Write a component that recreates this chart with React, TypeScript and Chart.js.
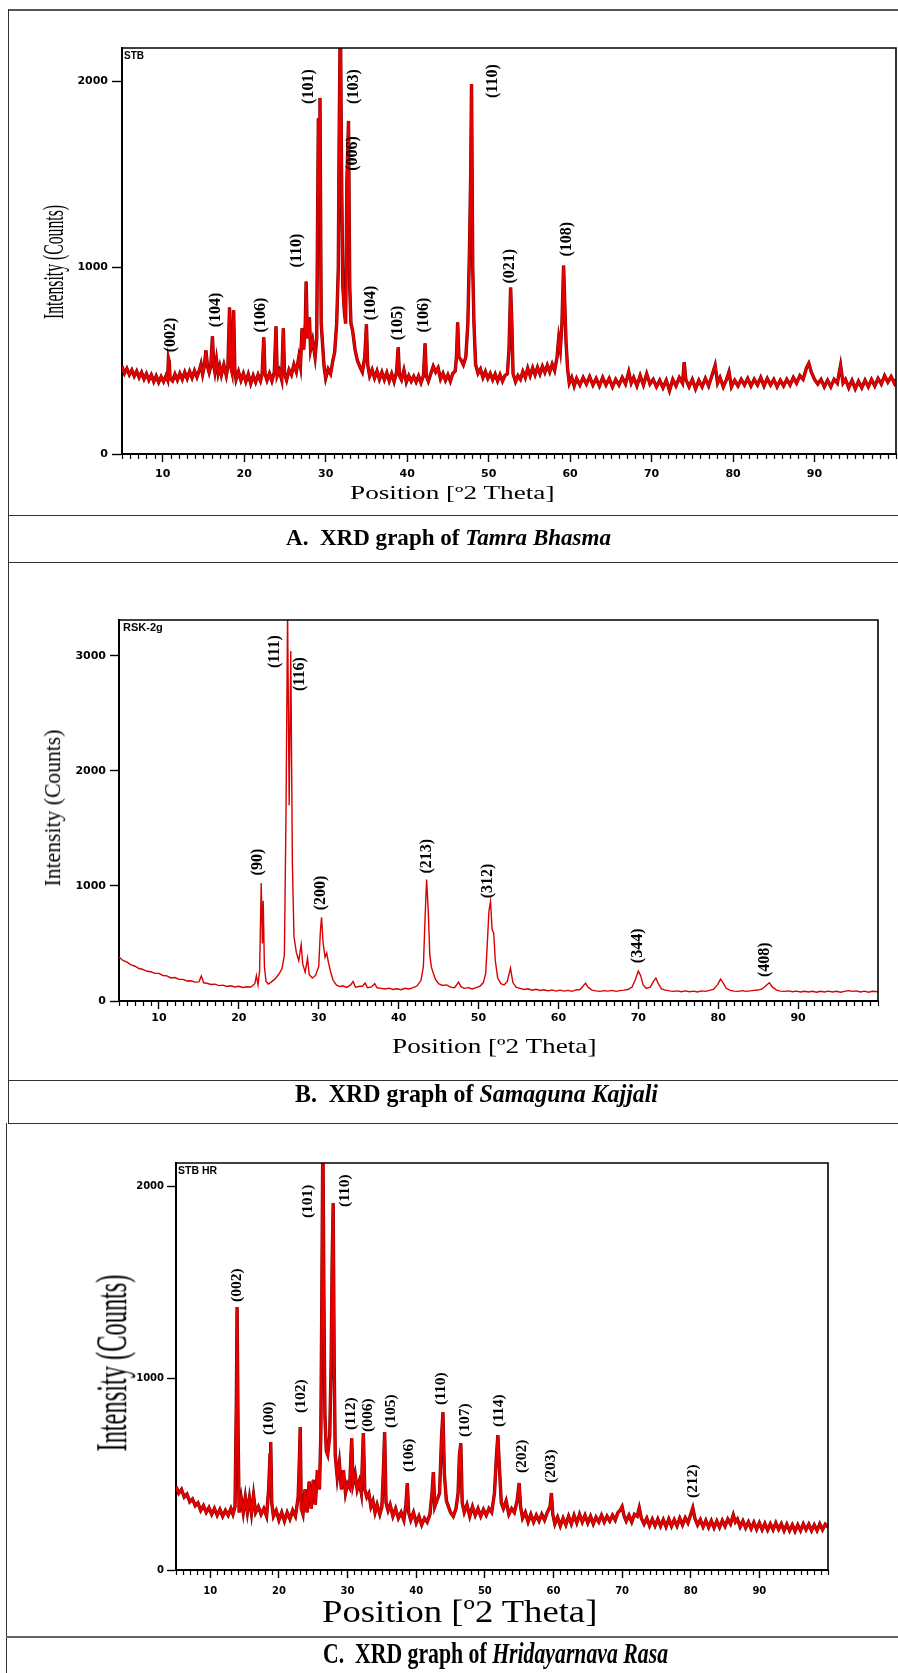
import React, { useEffect, useRef } from "react";
import { Chart, registerables } from "chart.js";

Chart.register(...registerables);

const SERIF = "'Liberation Serif', 'Times New Roman', Times, serif";
const TICK_FAMILY = "'DejaVu Sans', 'Liberation Sans', Arial, sans-serif";
const ID_FAMILY = "'Liberation Sans', Arial, sans-serif";

// ---------------- shared axis values ----------------
const thetaRange = [5, 100];
const thetaTickLabels = [10, 20, 30, 40, 50, 60, 70, 80, 90];
const thetaMinorStep = 1;
const xAxisTitle = "Position [\u00BA2 Theta]";
const yAxisTitle = "Intensity (Counts)";

// ---------------- A. Tamra Bhasma ----------------
const tamraSampleId = "STB";
const tamraCountTicks = [0, 1000, 2000];
const tamraCountMax = 2177;
const tamraPattern: [number, number][] = [
  [5.0, 470], [5.3, 432], [5.6, 458], [5.9, 425], [6.2, 450], [6.5, 418], [6.8, 444], [7.1, 410], [7.4, 438], [7.7, 402],
  [8.0, 430], [8.3, 396], [8.6, 424], [8.9, 388], [9.2, 418], [9.5, 384], [9.8, 414], [10.1, 388], [10.4, 420], [10.6, 398],
  [10.7, 513], [10.8, 496], [10.9, 405], [11.2, 392], [11.5, 428], [11.8, 396], [12.1, 432], [12.4, 400], [12.7, 438], [13.0, 404],
  [13.3, 442], [13.6, 408], [13.9, 446], [14.2, 412], [14.5, 450], [14.7, 482], [14.9, 428], [15.1, 470], [15.3, 556], [15.5, 468],
  [15.7, 436], [15.9, 470], [16.1, 631], [16.25, 480], [16.4, 440], [16.6, 505], [16.8, 432], [17.0, 470], [17.2, 425], [17.5, 478],
  [17.8, 420], [18.0, 470], [18.2, 786], [18.35, 470], [18.5, 440], [18.7, 770], [18.85, 452], [19.0, 400], [19.3, 442], [19.6, 395],
  [19.9, 432], [20.2, 388], [20.5, 428], [20.8, 378], [21.1, 420], [21.4, 385], [21.7, 425], [22.0, 392], [22.2, 430], [22.4, 626],
  [22.55, 430], [22.8, 395], [23.1, 432], [23.4, 392], [23.7, 440], [23.9, 685], [24.05, 420], [24.3, 448], [24.6, 398], [24.8, 674],
  [24.95, 430], [25.2, 396], [25.5, 452], [25.8, 425], [26.1, 480], [26.4, 440], [26.7, 520], [26.9, 470], [27.1, 674], [27.3, 560],
  [27.5, 700], [27.6, 925], [27.75, 620], [27.9, 700], [28.0, 733], [28.15, 560], [28.4, 610], [28.7, 520], [28.9, 620], [29.1, 1800],
  [29.2, 1400], [29.3, 1909], [29.45, 700], [29.6, 600], [29.8, 470], [30.0, 406], [30.3, 455], [30.6, 430], [30.9, 505], [31.1, 545],
  [31.35, 700], [31.55, 1000], [31.65, 1680], [31.8, 2400], [31.95, 1500], [32.1, 900], [32.3, 760], [32.45, 700], [32.6, 1455], [32.8, 1786],
  [32.95, 900], [33.1, 700], [33.3, 663], [33.6, 560], [33.9, 500], [34.2, 468], [34.5, 440], [34.8, 520], [35.0, 695], [35.15, 480],
  [35.4, 418], [35.7, 452], [36.0, 408], [36.3, 445], [36.6, 400], [36.9, 438], [37.2, 398], [37.5, 436], [37.8, 392], [38.1, 430],
  [38.4, 388], [38.7, 440], [38.9, 572], [39.05, 420], [39.3, 398], [39.6, 450], [39.9, 385], [40.2, 420], [40.5, 390], [40.8, 416],
  [41.1, 386], [41.4, 418], [41.7, 382], [42.0, 420], [42.2, 594], [42.35, 420], [42.6, 390], [42.9, 430], [43.2, 470], [43.5, 440],
  [43.8, 462], [44.1, 402], [44.4, 432], [44.7, 395], [45.0, 425], [45.3, 390], [45.6, 432], [45.9, 445], [46.05, 520], [46.2, 706],
  [46.35, 520], [46.6, 505], [46.9, 478], [47.2, 520], [47.45, 700], [47.65, 1100], [47.8, 1500], [47.9, 1984], [48.05, 1000], [48.2, 700],
  [48.4, 480], [48.7, 432], [49.0, 455], [49.3, 410], [49.6, 442], [49.9, 405], [50.2, 432], [50.5, 398], [50.8, 428], [51.1, 392],
  [51.4, 425], [51.7, 390], [52.0, 420], [52.3, 430], [52.5, 560], [52.7, 893], [52.85, 700], [53.0, 430], [53.3, 388], [53.6, 420],
  [53.9, 400], [54.2, 442], [54.5, 410], [54.8, 460], [55.1, 420], [55.4, 462], [55.7, 425], [56.0, 465], [56.3, 430], [56.6, 470],
  [56.9, 438], [57.2, 476], [57.5, 440], [57.8, 482], [58.1, 448], [58.4, 520], [58.6, 620], [58.8, 560], [59.0, 700], [59.2, 1011],
  [59.35, 800], [59.5, 600], [59.7, 452], [59.9, 380], [60.2, 410], [60.5, 365], [60.8, 405], [61.2, 370], [61.6, 410], [62.0, 375],
  [62.4, 415], [62.8, 370], [63.2, 405], [63.6, 365], [64.0, 410], [64.4, 370], [64.8, 405], [65.2, 360], [65.6, 400], [66.0, 370],
  [66.4, 410], [66.8, 375], [67.2, 440], [67.5, 380], [67.8, 410], [68.2, 365], [68.6, 420], [69.0, 370], [69.4, 430], [69.8, 375],
  [70.2, 400], [70.6, 360], [71.0, 395], [71.4, 355], [71.8, 395], [72.2, 340], [72.6, 400], [73.0, 365], [73.4, 410], [73.8, 380],
  [74.0, 492], [74.2, 400], [74.6, 360], [75.0, 400], [75.4, 350], [75.8, 395], [76.2, 360], [76.6, 405], [77.0, 365], [77.4, 420],
  [77.8, 476], [78.1, 380], [78.4, 410], [78.8, 360], [79.2, 400], [79.5, 440], [79.8, 360], [80.2, 395], [80.6, 365], [81.0, 400],
  [81.4, 370], [81.8, 405], [82.2, 365], [82.6, 400], [83.0, 370], [83.4, 410], [83.8, 365], [84.2, 405], [84.6, 370], [85.0, 400],
  [85.4, 360], [85.8, 395], [86.2, 365], [86.6, 400], [87.0, 370], [87.4, 410], [87.8, 380], [88.2, 420], [88.6, 400], [89.0, 460],
  [89.3, 486], [89.6, 440], [90.0, 400], [90.4, 375], [90.8, 400], [91.2, 360], [91.6, 395], [92.0, 360], [92.4, 400], [92.8, 380],
  [93.2, 476], [93.5, 380], [93.8, 400], [94.2, 355], [94.6, 395], [95.0, 350], [95.4, 390], [95.8, 355], [96.2, 395], [96.6, 360],
  [97.0, 400], [97.4, 365], [97.8, 405], [98.2, 375], [98.6, 420], [99.0, 385], [99.4, 415], [99.8, 380], [100.0, 400],
];
const tamraPeakLabels = ["(002)", "(104)", "(106)", "(110)", "(101)", "(103)", "(006)", "(104)", "(105)", "(106)", "(110)", "(021)", "(108)"];
const tamraLabelTheta = [11.0, 16.5, 22.0, 26.5, 27.9, 33.4, 33.3, 35.5, 38.9, 42.1, 50.5, 52.6, 59.6];
const tamraLabelCounts = [545, 679, 652, 1000, 1877, 1877, 1519, 717, 610, 652, 1909, 914, 1059];

// ---------------- B. Samaguna Kajjali ----------------
const kajjaliSampleId = "RSK-2g";
const kajjaliCountTicks = [0, 1000, 2000, 3000];
const kajjaliCountMax = 3310;
const kajjaliPattern: [number, number][] = [
  [5.0, 381], [5.5, 352], [6.0, 338], [6.5, 314], [7.0, 302], [7.5, 282], [8.0, 274], [8.5, 258], [9.0, 254], [9.5, 240],
  [10.0, 240], [10.5, 222], [11.0, 218], [11.5, 200], [12.0, 204], [12.5, 188], [13.0, 188], [13.5, 174], [14.0, 176], [14.5, 164],
  [15.0, 166], [15.3, 218], [15.6, 158], [16.0, 154], [16.5, 144], [17.0, 146], [17.5, 134], [18.0, 138], [18.5, 126], [19.0, 132],
  [19.5, 122], [20.0, 128], [20.5, 118], [21.0, 124], [21.5, 122], [22.0, 150], [22.2, 220], [22.4, 140], [22.6, 260], [22.8, 1024],
  [22.95, 500], [23.05, 870], [23.2, 300], [23.4, 170], [23.7, 148], [24.0, 162], [24.5, 190], [25.0, 232], [25.4, 280], [25.7, 400],
  [25.9, 1600], [26.1, 3380], [26.3, 1700], [26.5, 3040], [26.7, 1200], [26.9, 560], [27.2, 420], [27.5, 350], [27.8, 490], [28.0, 320],
  [28.3, 250], [28.6, 372], [28.8, 230], [29.2, 200], [29.6, 222], [30.0, 300], [30.2, 600], [30.35, 727], [30.55, 500], [30.8, 380],
  [31.0, 416], [31.2, 340], [31.5, 250], [31.8, 180], [32.2, 140], [32.6, 125], [33.0, 132], [33.5, 118], [34.0, 140], [34.3, 170],
  [34.6, 120], [35.0, 126], [35.5, 130], [35.8, 156], [36.1, 115], [36.6, 122], [37.0, 150], [37.3, 115], [37.8, 110], [38.3, 104],
  [38.8, 112], [39.3, 100], [39.8, 106], [40.3, 98], [40.8, 110], [41.3, 104], [41.8, 116], [42.3, 130], [42.8, 180], [43.1, 300],
  [43.3, 700], [43.5, 1056], [43.7, 800], [43.9, 400], [44.1, 294], [44.3, 250], [44.6, 190], [45.0, 150], [45.5, 135], [46.0, 140],
  [46.5, 120], [47.0, 116], [47.5, 164], [47.8, 125], [48.2, 110], [48.7, 116], [49.2, 104], [49.7, 116], [50.2, 130], [50.6, 160],
  [50.9, 240], [51.1, 500], [51.3, 780], [51.5, 866], [51.7, 620], [51.9, 590], [52.1, 350], [52.4, 200], [52.8, 150], [53.2, 140],
  [53.6, 170], [54.0, 286], [54.3, 160], [54.7, 120], [55.2, 110], [55.7, 100], [56.2, 106], [56.7, 94], [57.2, 102], [57.7, 92],
  [58.2, 98], [58.7, 88], [59.2, 96], [59.7, 86], [60.2, 94], [60.7, 86], [61.2, 92], [61.7, 84], [62.2, 96], [62.7, 100],
  [63.1, 130], [63.4, 155], [63.7, 120], [64.2, 95], [64.7, 88], [65.2, 84], [65.7, 90], [66.2, 86], [66.7, 92], [67.2, 84],
  [67.7, 90], [68.2, 94], [68.7, 100], [69.2, 120], [69.6, 180], [70.0, 260], [70.3, 220], [70.6, 140], [71.0, 110], [71.5, 120],
  [71.9, 170], [72.2, 199], [72.5, 150], [72.9, 105], [73.4, 95], [73.9, 88], [74.4, 84], [74.9, 88], [75.4, 80], [75.9, 88],
  [76.4, 80], [76.9, 86], [77.4, 78], [77.9, 88], [78.4, 84], [78.9, 92], [79.4, 100], [79.9, 140], [80.3, 190], [80.6, 160],
  [81.0, 110], [81.5, 92], [82.0, 86], [82.5, 84], [83.0, 90], [83.5, 84], [84.0, 88], [84.5, 92], [85.0, 95], [85.5, 105],
  [86.0, 135], [86.4, 158], [86.8, 120], [87.3, 95], [87.8, 86], [88.3, 84], [88.8, 88], [89.3, 80], [89.8, 86], [90.3, 78],
  [90.8, 84], [91.3, 78], [91.8, 85], [92.3, 76], [92.8, 84], [93.3, 78], [93.8, 86], [94.3, 78], [94.8, 85], [95.3, 76],
  [95.8, 84], [96.3, 90], [96.8, 84], [97.3, 88], [97.8, 78], [98.3, 86], [98.8, 76], [99.3, 84], [100.0, 80],
];
const kajjaliPeakLabels = ["(90)", "(111)", "(116)", "(200)", "(213)", "(312)", "(344)", "(408)"];
const kajjaliLabelTheta = [22.4, 24.5, 27.6, 30.3, 43.5, 51.2, 69.9, 85.8];
const kajjaliLabelCounts = [1091, 2892, 2693, 788, 1108, 892, 329, 208];

// ---------------- C. Hridayarnava Rasa ----------------
const hridayaSampleId = "STB HR";
const hridayaCountTicks = [0, 1000, 2000];
const hridayaCountMax = 2120;
const hridayaPattern: [number, number][] = [
  [5.0, 434], [5.4, 400], [5.8, 420], [6.2, 380], [6.6, 395], [7.0, 355], [7.4, 370], [7.8, 335], [8.2, 350], [8.6, 310],
  [9.0, 335], [9.4, 300], [9.8, 325], [10.2, 290], [10.6, 320], [11.0, 285], [11.4, 315], [11.8, 280], [12.2, 310], [12.6, 285],
  [13.0, 320], [13.3, 290], [13.6, 330], [13.8, 900], [13.9, 1370], [14.05, 700], [14.2, 300], [14.5, 375], [14.8, 300], [15.1, 380],
  [15.4, 300], [15.7, 375], [16.0, 295], [16.3, 390], [16.6, 300], [17.0, 330], [17.4, 290], [17.8, 320], [18.2, 280], [18.5, 420],
  [18.7, 600], [18.8, 667], [18.95, 350], [19.2, 280], [19.6, 310], [20.0, 260], [20.4, 300], [20.8, 255], [21.2, 300], [21.6, 265],
  [22.0, 310], [22.4, 280], [22.8, 380], [23.0, 600], [23.1, 745], [23.25, 320], [23.5, 290], [23.8, 420], [24.1, 300], [24.4, 460],
  [24.7, 320], [25.0, 470], [25.3, 340], [25.6, 520], [25.9, 420], [26.1, 700], [26.25, 1406], [26.4, 2300], [26.55, 1406], [26.7, 800],
  [26.9, 620], [27.1, 600], [27.4, 700], [27.6, 1068], [27.75, 1600], [27.9, 1911], [28.05, 1068], [28.2, 600], [28.5, 480], [28.8, 560],
  [29.1, 420], [29.4, 520], [29.7, 400], [30.0, 450], [30.3, 430], [30.6, 686], [30.8, 450], [31.1, 500], [31.4, 420], [31.7, 460],
  [32.0, 400], [32.3, 713], [32.5, 420], [32.8, 380], [33.1, 400], [33.4, 330], [33.7, 360], [34.0, 300], [34.3, 340], [34.7, 290],
  [35.0, 330], [35.2, 500], [35.4, 719], [35.6, 350], [35.9, 310], [36.2, 340], [36.6, 280], [37.0, 320], [37.4, 270], [37.8, 300],
  [38.2, 260], [38.5, 340], [38.7, 453], [38.9, 300], [39.2, 260], [39.6, 300], [40.0, 245], [40.4, 280], [40.8, 235], [41.2, 270],
  [41.6, 250], [42.0, 290], [42.3, 400], [42.5, 510], [42.7, 330], [43.0, 360], [43.4, 400], [43.7, 700], [43.9, 822], [44.1, 500],
  [44.4, 360], [44.7, 330], [45.0, 300], [45.4, 280], [45.8, 320], [46.1, 400], [46.3, 600], [46.5, 660], [46.7, 350], [47.0, 300],
  [47.4, 340], [47.8, 280], [48.2, 330], [48.6, 285], [49.0, 320], [49.4, 280], [49.8, 315], [50.2, 285], [50.6, 320], [51.0, 300],
  [51.4, 400], [51.7, 600], [51.9, 703], [52.1, 550], [52.4, 350], [52.7, 320], [53.1, 360], [53.5, 290], [53.9, 320], [54.3, 300],
  [54.7, 360], [55.0, 453], [55.2, 330], [55.5, 270], [55.9, 300], [56.3, 250], [56.7, 290], [57.1, 250], [57.5, 285], [57.9, 255],
  [58.3, 290], [58.7, 260], [59.1, 300], [59.5, 330], [59.7, 401], [59.9, 290], [60.2, 240], [60.6, 275], [61.0, 230], [61.4, 270],
  [61.8, 235], [62.2, 280], [62.6, 240], [63.0, 285], [63.4, 245], [63.8, 290], [64.2, 250], [64.6, 285], [65.0, 245], [65.4, 280],
  [65.8, 240], [66.2, 275], [66.6, 250], [67.0, 285], [67.4, 250], [67.8, 280], [68.2, 255], [68.6, 285], [69.0, 260], [69.4, 300],
  [69.7, 310], [70.0, 330], [70.3, 280], [70.6, 255], [71.0, 285], [71.4, 250], [71.8, 290], [72.2, 280], [72.5, 323], [72.8, 270],
  [73.2, 240], [73.6, 270], [74.0, 230], [74.4, 265], [74.8, 230], [75.2, 265], [75.6, 228], [76.0, 262], [76.4, 226], [76.8, 265],
  [77.2, 228], [77.6, 262], [78.0, 230], [78.4, 270], [78.8, 235], [79.2, 272], [79.6, 245], [80.0, 290], [80.3, 323], [80.6, 270],
  [81.0, 235], [81.4, 262], [81.8, 225], [82.2, 258], [82.6, 222], [83.0, 256], [83.4, 220], [83.8, 255], [84.2, 222], [84.6, 258],
  [85.0, 228], [85.4, 265], [85.8, 240], [86.2, 287], [86.5, 250], [86.8, 265], [87.2, 225], [87.6, 255], [88.0, 220], [88.4, 250],
  [88.8, 215], [89.2, 248], [89.6, 212], [90.0, 245], [90.4, 210], [90.8, 242], [91.2, 208], [91.6, 240], [92.0, 210], [92.4, 245],
  [92.8, 212], [93.2, 240], [93.6, 205], [94.0, 238], [94.4, 205], [94.8, 235], [95.2, 202], [95.6, 235], [96.0, 205], [96.4, 240],
  [96.8, 210], [97.2, 238], [97.6, 205], [98.0, 235], [98.4, 205], [98.8, 240], [99.2, 210], [99.6, 238], [100.0, 224],
];
const hridayaPeakLabels = ["(002)", "(100)", "(102)", "(101)", "(110)", "(112)", "(006)", "(105)", "(106)", "(110)", "(107)", "(114)", "(202)", "(203)", "(212)"];
const hridayaLabelTheta = [13.9, 18.6, 23.2, 24.2, 29.6, 30.5, 33.0, 36.3, 38.9, 43.6, 47.1, 52.0, 55.4, 59.7, 80.4];
const hridayaLabelCounts = [1396, 703, 818, 1833, 1891, 729, 719, 740, 510, 859, 693, 745, 505, 453, 375];

// captions
type Seg = { text: string; italic?: boolean };
const captionA: Seg[] = [{ text: "A.  XRD graph of " }, { text: "Tamra Bhasma", italic: true }];
const captionB: Seg[] = [{ text: "B.  XRD graph of " }, { text: "Samaguna Kajjali", italic: true }];
const captionC: Seg[] = [{ text: "C.  XRD graph of " }, { text: "Hridayarnava Rasa", italic: true }];

// ---------------- helpers ----------------
let measureCtx: CanvasRenderingContext2D | null = null;
function measureSegs(segs: Seg[], size: number, bold: boolean): number {
  if (!measureCtx) measureCtx = document.createElement("canvas").getContext("2d");
  const ctx = measureCtx!;
  let w = 0;
  for (const s of segs) {
    ctx.font = `${s.italic ? "italic " : ""}${bold ? "bold " : ""}${size}px ${SERIF}`;
    w += ctx.measureText(s.text).width;
  }
  return w;
}

function Caption(props: { segs: Seg[]; size: number; left: number; baseline: number; width: number }) {
  const { segs, size, left, baseline, width } = props;
  const s = width / measureSegs(segs, size, true);
  return (
    <div
      style={{
        position: "absolute", left, top: baseline - 0.8375 * size, fontFamily: SERIF, fontWeight: "bold",
        fontSize: size, lineHeight: `${size}px`, whiteSpace: "pre", transformOrigin: "0 0",
        transform: `scaleX(${s})`, color: "#000",
      }}
    >
      {segs.map((g, i) => (g.italic ? <i key={i}>{g.text}</i> : <span key={i}>{g.text}</span>))}
    </div>
  );
}

function XTitle(props: { text: string; size: number; cx: number; baseline: number; width: number }) {
  const { text, size, cx, baseline, width } = props;
  const s = width / measureSegs([{ text }], size, false);
  return (
    <div
      style={{
        position: "absolute", left: cx - width / 2, top: baseline - 0.8375 * size, fontFamily: SERIF,
        fontSize: size, lineHeight: `${size}px`, whiteSpace: "pre", transformOrigin: "0 0",
        transform: `scaleX(${s})`, color: "#000",
      }}
    >
      {text}
    </div>
  );
}

function YTitle(props: { text: string; size: number; cx: number; cy: number; length: number; glyph: number }) {
  const { text, size, cx, cy, length, glyph } = props;
  const natural = measureSegs([{ text }], size, false);
  const s = length / natural;
  return (
    <div
      style={{
        position: "absolute", left: cx - natural / 2, top: cy - size / 2, width: natural, height: size,
        fontFamily: SERIF, fontSize: size, lineHeight: `${size}px`, whiteSpace: "pre",
        transformOrigin: "50% 50%", transform: `rotate(-90deg) scale(${s}, ${glyph})`, color: "#000",
      }}
    >
      {text}
    </div>
  );
}

type PanelProps = {
  box: { left: number; top: number; width: number; height: number };
  pad: { left: number; top: number; right: number; bottom: number };
  pattern: [number, number][];
  countTicks: number[];
  countMax: number;
  sampleId: string;
  peakLabels: string[];
  peakTheta: number[];
  peakCounts: number[];
  look: {
    line: string; lineWidth: number; underlay?: string; underlayWidth?: number;
    tickSize: number; xTickPad: number; yTickLen: number; yTickPad: number;
    labelSize: number; idSize: number; idDx: number; idDy: number;
  };
};

function XrdPanel(p: PanelProps) {
  const ref = useRef<HTMLCanvasElement | null>(null);
  useEffect(() => {
    const canvas = ref.current;
    if (!canvas) return;
    const points = p.pattern.map(([x, y]) => ({ x, y }));
    const datasets: any[] = [
      { data: points, borderColor: p.look.line, borderWidth: p.look.lineWidth, pointRadius: 0, tension: 0, fill: false, borderJoinStyle: "miter" },
    ];
    if (p.look.underlay) {
      datasets.push({ data: points, borderColor: p.look.underlay, borderWidth: p.look.underlayWidth, pointRadius: 0, tension: 0, fill: false, borderJoinStyle: "miter" });
    }
    const decor = {
      id: "xrdDecor",
      afterDatasetsDraw(chart: any) {
        const { ctx, chartArea } = chart;
        const { left, top, right, bottom } = chartArea;
        const xs = chart.scales.x;
        const ys = chart.scales.y;
        ctx.save();
        ctx.strokeStyle = "#000";
        ctx.lineWidth = 1.6;
        ctx.beginPath();
        ctx.moveTo(left - 1, top);
        ctx.lineTo(right, top);
        ctx.lineTo(right, bottom + 1);
        ctx.stroke();
        ctx.lineWidth = 1.2;
        for (let v = Math.ceil(xs.min); v <= xs.max; v += thetaMinorStep) {
          if (thetaTickLabels.includes(v)) continue;
          const px = Math.round(xs.getPixelForValue(v)) + 0.5;
          ctx.beginPath();
          ctx.moveTo(px, bottom);
          ctx.lineTo(px, bottom + 5);
          ctx.stroke();
        }
        ctx.fillStyle = "#000";
        ctx.font = `bold ${p.look.idSize}px ${ID_FAMILY}`;
        ctx.textAlign = "left";
        ctx.textBaseline = "top";
        ctx.fillText(p.sampleId, left + p.look.idDx, top + p.look.idDy);
        ctx.font = `bold ${p.look.labelSize}px ${SERIF}`;
        ctx.textBaseline = "middle";
        p.peakLabels.forEach((label, i) => {
          ctx.save();
          ctx.translate(xs.getPixelForValue(p.peakTheta[i]), ys.getPixelForValue(p.peakCounts[i]));
          ctx.rotate(-Math.PI / 2);
          ctx.fillText(label, 0, 0);
          ctx.restore();
        });
        ctx.restore();
      },
    };
    const tickFont = { family: TICK_FAMILY, size: p.look.tickSize, weight: "bold" as const };
    const chart = new Chart(canvas, {
      type: "line",
      data: { datasets },
      options: {
        animation: false,
        responsive: false,
        maintainAspectRatio: false,
        devicePixelRatio: 1,
        events: [],
        layout: { padding: p.pad },
        plugins: { legend: { display: false }, tooltip: { enabled: false } },
        scales: {
          x: {
            type: "linear",
            min: thetaRange[0],
            max: thetaRange[1],
            afterBuildTicks: (axis: any) => { axis.ticks = thetaTickLabels.map((value) => ({ value })); },
            afterFit: (axis: any) => { axis.height = 40; },
            ticks: { autoSkip: false, maxRotation: 0, minRotation: 0, padding: p.look.xTickPad, color: "#000", font: tickFont, callback: (v: any) => String(v) },
            grid: { drawOnChartArea: false, drawTicks: true, tickLength: 8, tickColor: "#000", tickWidth: 1.4, color: "#000" },
            border: { display: true, color: "#000", width: 2 },
          },
          y: {
            type: "linear",
            min: 0,
            max: p.countMax,
            afterBuildTicks: (axis: any) => { axis.ticks = p.countTicks.map((value) => ({ value })); },
            afterFit: (axis: any) => { axis.width = 60; },
            ticks: { autoSkip: false, padding: p.look.yTickPad, color: "#000", font: tickFont, callback: (v: any) => String(v) },
            grid: { drawOnChartArea: false, drawTicks: true, tickLength: p.look.yTickLen, tickColor: "#000", tickWidth: 1.4, color: "#000" },
            border: { display: true, color: "#000", width: 2 },
          },
        },
      } as any,
      plugins: [decor],
    });
    return () => chart.destroy();
  }, []);
  return (
    <canvas
      ref={ref}
      width={p.box.width}
      height={p.box.height}
      style={{ position: "absolute", left: p.box.left, top: p.box.top, width: p.box.width, height: p.box.height }}
    />
  );
}

// ---------------- layout (page pixels) ----------------
const PAGE_W = 898;
const PAGE_H = 1673;
const ruleRows = [515, 562, 1080, 1123];

export default function App() {
  useEffect(() => {
    document.documentElement.style.overflow = "hidden";
    document.body.style.overflow = "hidden";
  }, []);
  return (
    <div style={{ position: "absolute", left: 0, top: 0, width: PAGE_W, height: PAGE_H, overflow: "hidden", background: "#fff" }}>
      <XrdPanel
        box={{ left: 8, top: 10, width: 890, height: 505 }}
        pad={{ left: 54, top: 38, right: 2, bottom: 21 }}
        pattern={tamraPattern}
        countTicks={tamraCountTicks}
        countMax={tamraCountMax}
        sampleId={tamraSampleId}
        peakLabels={tamraPeakLabels}
        peakTheta={tamraLabelTheta}
        peakCounts={tamraLabelCounts}
        look={{ line: "#e60000", lineWidth: 2.4, underlay: "#7a0000", underlayWidth: 3.4, tickSize: 11, xTickPad: 5.4, yTickLen: 10, yTickPad: 4, labelSize: 16, idSize: 10, idDx: 2, idDy: 3 }}
      />
      <XrdPanel
        box={{ left: 8, top: 562, width: 890, height: 518 }}
        pad={{ left: 51, top: 58, right: 20, bottom: 39 }}
        pattern={kajjaliPattern}
        countTicks={kajjaliCountTicks}
        countMax={kajjaliCountMax}
        sampleId={kajjaliSampleId}
        peakLabels={kajjaliPeakLabels}
        peakTheta={kajjaliLabelTheta}
        peakCounts={kajjaliLabelCounts}
        look={{ line: "#d80000", lineWidth: 1.4, tickSize: 11, xTickPad: 2.5, yTickLen: 9, yTickPad: 4, labelSize: 16, idSize: 11, idDx: 4, idDy: 2 }}
      />
      <XrdPanel
        box={{ left: 8, top: 1123, width: 890, height: 514 }}
        pad={{ left: 108, top: 40, right: 70, bottom: 27 }}
        pattern={hridayaPattern}
        countTicks={hridayaCountTicks}
        countMax={hridayaCountMax}
        sampleId={hridayaSampleId}
        peakLabels={hridayaPeakLabels}
        peakTheta={hridayaLabelTheta}
        peakCounts={hridayaLabelCounts}
        look={{ line: "#e60000", lineWidth: 2.4, underlay: "#7a0000", underlayWidth: 3.4, tickSize: 10, xTickPad: 7, yTickLen: 9, yTickPad: 3, labelSize: 15.5, idSize: 10.5, idDx: 2, idDy: 3 }}
      />

      <YTitle text={yAxisTitle} size={20} cx={52} cy={262} length={114} glyph={1.5} />
      <YTitle text={yAxisTitle} size={22} cx={53} cy={808} length={157} glyph={1.05} />
      <YTitle text={yAxisTitle} size={30} cx={111} cy={1363} length={177} glyph={1.5} />

      <XTitle text={xAxisTitle} size={18} cx={452} baseline={499.5} width={205} />
      <XTitle text={xAxisTitle} size={22} cx={494.5} baseline={1053} width={205} />
      <XTitle text={xAxisTitle} size={32} cx={460} baseline={1622} width={276} />

      <Caption segs={captionA} size={24} left={286} baseline={545} width={325} />
      <Caption segs={captionB} size={26} left={295} baseline={1103} width={363} />
      <Caption segs={captionC} size={29} left={323} baseline={1663} width={345} />

      {/* table rules */}
      <div style={{ position: "absolute", left: 8, top: 9, width: PAGE_W - 8, height: 2, background: "#555" }} />
      <div style={{ position: "absolute", left: 8, top: 9, width: 1, height: 1114, background: "#333" }} />
      <div style={{ position: "absolute", left: 6, top: 1123, width: 1, height: PAGE_H - 1123, background: "#333" }} />
      {ruleRows.map((y) => (
        <div key={y} style={{ position: "absolute", left: 8, top: y, width: PAGE_W - 8, height: 1, background: "#333" }} />
      ))}
      <div style={{ position: "absolute", left: 6, top: 1636, width: PAGE_W - 6, height: 2, background: "#666" }} />
    </div>
  );
}
